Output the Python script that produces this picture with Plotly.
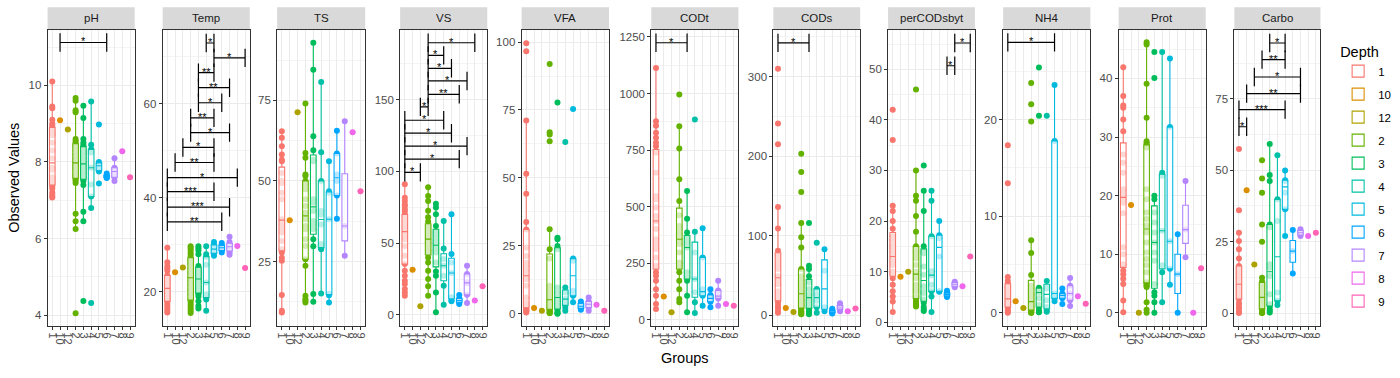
import plotly.graph_objects as go

# ---------------- data ----------------
groups = ["1", "10", "12", "2", "3", "4", "5", "6", "7", "8", "9"]
colors = ["#F8766D", "#DB8E00", "#AEA200", "#64B200", "#00BD5C", "#00C1A7",
          "#00BADE", "#00A6FF", "#B385FF", "#EF67EB", "#FF63B6"]
panels = ["pH", "Temp", "TS", "VS", "VFA", "CODt", "CODs", "perCODsbyt", "NH4", "Prot", "Carbo"]

ph = {
    "1": [10.1, 9.45, 9.4, 9.1, 9.0, 8.95, 8.9, 8.8, 8.75, 8.7, 8.5, 8.3, 8.1, 7.85, 7.8, 7.6, 7.55, 7.5, 7.45, 7.4, 7.35, 7.3, 7.2, 7.15, 7.1, 7.07],
    "10": [9.09], "12": [8.85],
    "2": [9.67, 9.6, 9.35, 9.3, 8.6, 8.55, 8.5, 8.45, 8.4, 8.3, 8.2, 8.1, 8.05, 8.0, 7.95, 7.9, 7.85, 7.8, 7.7, 7.65, 7.6, 7.55, 7.5, 7.45, 6.65, 6.45, 6.25, 4.05],
    "3": [9.47, 9.15, 8.6, 8.5, 8.45, 8.4, 8.3, 8.25, 8.2, 8.1, 8.0, 7.9, 7.85, 7.8, 7.7, 7.6, 7.55, 7.5, 7.4, 6.7, 6.45, 4.37],
    "4": [9.58, 8.45, 8.33, 8.25, 7.85, 7.41, 7.1, 6.8, 4.32],
    "5": [8.98, 8.0, 7.95, 7.9, 7.8, 7.75, 7.44],
    "6": [7.7, 7.65, 7.62, 7.6, 7.58],
    "7": [8.1, 7.85, 7.8, 7.7, 7.6, 7.5],
    "8": [8.28], "9": [7.6],
}
temp = {
    "1": [29.4, 26.3, 25.5, 25.0, 24.5, 23.5, 23.0, 22.5, 22.0, 21.5, 21.0, 20.5, 20.0, 19.5, 19.0, 18.5, 18.0, 17.5, 17.0, 16.5, 16.0, 15.6],
    "10": [24.2], "12": [25.2],
    "2": [29.7, 29.4, 29.0, 28.5, 28.0, 27.5, 27.0, 26.5, 26.0, 25.0, 24.0, 23.0, 22.3, 21.5, 20.5, 19.5, 18.5, 18.0, 17.5, 17.0, 16.5, 16.0, 15.5],
    "3": [29.7, 29.3, 28.8, 28.0, 23.5, 22.5, 25.5, 25.0, 24.5, 24.0, 23.0, 22.0, 21.0, 20.5, 20.0, 19.5, 19.0, 18.0, 17.0, 16.5],
    "4": [29.7, 28.0, 27.5, 25.8, 22.0, 19.5, 18.8, 18.4, 16.0],
    "5": [30.6, 30.0, 29.4, 28.8, 28.2, 27.7],
    "6": [30.4, 29.9, 29.6, 29.2, 28.8, 28.4],
    "7": [31.7, 30.6, 30.1, 29.6, 29.0, 28.4, 27.9],
    "8": [29.75], "9": [25.1],
}
ts = {
    "1": [65.4, 63.4, 60.8, 58.2, 56.6, 56.1, 52.5, 50.0, 49.4, 46.3, 44.3, 38.1, 37.6, 36.5, 35.0, 34.0, 31.4, 28.8, 27.8, 26.2, 25.2, 14.6, 9.7, 9.2],
    "10": [37.8], "12": [71.3],
    "2": [74.0, 58.7, 57.2, 52.0, 51.5, 50.0, 48.9, 47.4, 44.3, 42.2, 40.2, 38.1, 36.0, 35.0, 31.9, 29.8, 25.7, 23.7, 14.4, 13.4, 12.9, 12.3],
    "3": [92.9, 84.5, 63.9, 59.5, 56.6, 56.1, 44.3, 43.2, 40.7, 37.6, 36.5, 35.0, 31.9, 29.7, 14.9, 12.5],
    "4": [80.7, 58.9, 50.0, 40.7, 39.6, 36.5, 30.4, 29.3, 28.8, 15.1],
    "5": [56.1, 46.8, 46.3, 38.1, 15.0, 14.5, 12.3],
    "6": [65.6, 58.5, 52.0, 50.0, 45.5, 38.3],
    "7": [68.5, 36.0, 26.8],
    "8": [65.1], "9": [46.8],
}
vs = {
    "1": [91, 81.7, 79.4, 77, 75.9, 73.6, 72, 70, 69, 66, 65, 63, 62, 60, 58, 57.4, 55, 54, 52.8, 48.1, 41.2, 35.4, 30.8, 27.3, 23.8, 21.5, 18, 15.7, 13.4],
    "10": [31.5], "12": [6.0],
    "2": [89, 82.9, 79.4, 72.5, 68, 65, 62, 60, 58, 56, 54, 52.8, 51, 50, 48.1, 45, 43.5, 40, 36.6, 30.8, 25, 19.9, 13.4],
    "3": [77.5, 74.8, 70.1, 62, 57.4, 55, 52, 50, 47, 45, 43.5, 36.6, 30.3, 27.3, 15.7, 1.85],
    "4": [65.5, 46.3, 38.9, 34.3, 27.3, 20.4, 7.0],
    "5": [70.1, 42.4, 36.6, 29.2, 12.3, 10.0, 9.5],
    "6": [13.9, 11.5, 10.5, 9.5, 8.8, 7.6],
    "7": [34.3, 28.5, 22.7, 22.0, 14.0, 8.3],
    "8": [10.0], "9": [19.9],
}
vfa = {
    "1": [99.6, 96.6, 71.1, 51.5, 44.2, 33.8, 31.0, 24.4, 21.3, 18.8, 17.6, 15.8, 14.0, 12.7, 10.3, 6.0, 4.0, 2.9, 2.2, 1.7, 1.5, 1.2, 1.0, 0.8, 0.5],
    "10": [2.1], "12": [1.1],
    "2": [91.9, 66.8, 66.0, 63.5, 31.1, 23.7, 20.3, 10.3, 9.1, 7.8, 6.6, 5.5, 4.8, 4.2, 3.5, 2.8, 2.3, 1.8, 1.5, 1.1, 0.8, 0.5, 0.3, 0.25],
    "3": [77.8, 28.0, 27.4, 24.9, 23.7, 9.7, 7.8, 6.0, 4.8, 3.5, 2.3, 1.1, 0.5, 0.2, 0.0],
    "4": [63.2, 9.7, 7.8, 5.4, 3.9, 2.3, 1.1],
    "5": [75.4, 20.3, 19.5, 8.5, 6.6, 4.2],
    "6": [4.5, 3.8, 3.0, 2.5, 2.0, 1.5],
    "7": [6.0, 4.5, 3.5, 2.3, 1.1],
    "8": [3.3], "9": [1.1],
}
codt = {
    "1": [1112, 877, 858, 826, 804, 782, 767, 738, 650, 547, 533, 496, 459, 437, 401, 356, 335, 313, 276, 239, 210, 195, 173, 136, 107, 70, 48],
    "10": [103], "12": [34],
    "2": [995, 855, 757, 621, 525, 462, 415, 401, 379, 356, 335, 298, 254, 239, 210, 173, 136, 92, 78],
    "3": [569, 447, 386, 360, 342, 320, 210, 188, 173, 107, 34],
    "4": [885, 389, 298, 181, 122, 78, 31],
    "5": [405, 276, 136, 114, 107, 63],
    "6": [136, 110, 100, 90, 80, 56],
    "7": [173, 130, 105, 95, 63],
    "8": [70], "9": [63],
}
cods = {
    "1": [310, 241, 215, 136, 109, 81, 76, 72, 66, 62, 58, 49, 45, 39, 30, 26, 22, 20, 16, 12, 10, 8, 5, 3],
    "10": [9], "12": [4],
    "2": [203, 180, 155, 116, 98, 85, 58, 49, 44, 39, 35, 30, 27, 24, 20, 18, 14, 12, 9, 7, 5, 4, 3, 2, 1],
    "3": [116, 62, 58, 49, 41, 33, 26, 22, 18, 14, 10, 7, 5, 3, 1],
    "4": [91, 33, 26, 18, 10, 3],
    "5": [83, 56, 10, 5],
    "6": [8, 6, 4, 3, 2],
    "7": [15, 12, 9, 7, 5],
    "8": [5], "9": [8.5],
}
percodsbyt = {
    "1": [42, 36, 23, 22, 20, 18.5, 17, 16.2, 15.2, 14.5, 13.9, 13, 12.6, 11.8, 11.3, 10, 9.5, 8.7, 7.4, 6.1, 5.1, 4.1, 2],
    "10": [9], "12": [10],
    "2": [46, 30, 25, 24, 21, 17.9, 15, 14, 13.5, 12.6, 11.3, 10, 9.5, 8.7, 7.4, 6.5, 6.1, 5, 4.7, 4.4, 4, 3.8, 3.5, 3.3, 3.1],
    "3": [31, 26, 22, 15, 14, 13.6, 11, 9.4, 7.1, 6, 5.8, 4.5, 3.8, 3, 2.5, 2.2],
    "4": [26, 24, 17, 10.1, 9.3, 7.4, 6.1, 5.1, 2],
    "5": [20, 17.2, 16.6, 13, 6.1, 6.0],
    "6": [6.2, 5.8, 5.5, 5.2, 5.0],
    "7": [8.0, 7.7, 7.3, 6.9],
    "8": [7.1], "9": [13],
}
nh4 = {
    "1": [17.35, 13.4, 3.7, 3.3, 3.0, 2.65, 2.3, 1.96, 1.6, 1.27, 1.1, 0.93, 0.8, 0.6, 0.4, 0.24, 0.1, 0.0],
    "10": [1.2], "12": [0.5],
    "2": [23.8, 21.6, 19.8, 7.5, 6.2, 3.9, 2.8, 2.5, 2.0, 1.8, 1.6, 1.3, 1.0, 0.9, 0.7, 0.6, 0.5, 0.3, 0.25, 0.15, 0.1, 0.05, 0.0, 0.0],
    "3": [25.4, 20.4, 2.6, 2.5, 2.3, 2.1, 1.5, 0.8, 0.4, 0.1, 0.05],
    "4": [20.4, 3.3, 2.6, 2.5, 1.3, 0.6, 0.2, 0.1],
    "5": [23.6, 17.8, 2.0, 1.5, 1.2],
    "6": [2.5, 2.0, 1.8, 1.5, 0.9],
    "7": [3.6, 2.8, 2.0, 1.3, 0.7],
    "8": [1.7], "9": [0.93],
}
prot = {
    "1": [41.9, 37, 35.4, 35, 33, 31, 27, 25.6, 23.9, 21.1, 20.8, 20, 19.4, 18.8, 17, 11.2, 10, 8.3, 7.2, 6.6, 5.8, 4.9, 2.1, 0.1],
    "10": [18.4], "12": [0],
    "2": [46.2, 45.8, 39.1, 33.3, 29.3, 29, 28.8, 28.5, 28.2, 21.1, 19.4, 17.1, 16, 14.9, 13.7, 12, 10.3, 9.2, 8.1, 6.9, 5.2, 5.0, 4.7, 4.6, 4.4, 1.8, 0.5, 0],
    "3": [44.5, 40.1, 20, 19.4, 17.1, 15.4, 13.7, 12, 10.3, 8.9, 4.9, 3.5, 2.9, 1.8, 0],
    "4": [44.5, 23.9, 23.4, 14, 8.1, 6.9, 1.8],
    "5": [43.4, 31.7, 12.2, 7.5, 4.8],
    "6": [13.4, 6.6, 0],
    "7": [22.5, 14.2, 9.5],
    "8": [0], "9": [7.6],
}
carbo = {
    "1": [57.4, 36, 28.1, 25.2, 22.3, 19.1, 16.5, 15.3, 14.5, 13.6, 12.5, 11.9, 10.1, 9, 8.4, 7.5, 6.6, 5.5, 4.9, 3.5, 3.1, 2, 1.4, 0.5, 0],
    "10": [43], "12": [17],
    "2": [53.5, 47.1, 42.1, 31, 25, 12.4, 11, 10.7, 9.5, 9, 8, 7.2, 6.5, 6, 5.5, 5, 4.5, 3.7, 3, 2.5, 1.98, 1.5, 1.0, 0.8, 0.5, 0.3, 0.2, 0.1, 0],
    "3": [59.2, 48.3, 46.2, 31, 30, 17.1, 15.9, 13, 6.6, 3.1, 2.5, 1.4, 0.8, 0.2],
    "4": [55.2, 39.8, 32.2, 7.2, 4.3, 2.8],
    "5": [49.9, 46.5, 46.2, 42.1, 36.3, 27.0],
    "6": [29.1, 21.7, 13.9],
    "7": [29.3, 28.5, 27.7, 27.0],
    "8": [27], "9": [28.1],
}

# significance comparisons: (group a, group b, y level, label)
ph_sig = [("10", "6", 11.12, "*")]
temp_sig = [("4", "5", 72.9, "*"), ("5", "9", 69.75, "*"), ("3", "5", 66.6, "**"),
            ("3", "7", 63.4, "**"), ("3", "6", 60.2, "*"), ("2", "5", 57.0, "**"),
            ("2", "7", 53.85, "*"), ("12", "5", 50.7, "*"), ("10", "5", 47.5, "**"),
            ("1", "8", 44.3, "*"), ("1", "5", 41.3, "***"), ("1", "7", 38.0, "***"),
            ("1", "6", 34.9, "**")]
vs_sig = [("2", "8", 189.6, "*"), ("2", "4", 180.8, "*"), ("2", "5", 171.8, "*"),
          ("2", "7", 163.0, "*"), ("2", "6", 153.7, "**"), ("12", "2", 144.9, "*"),
          ("1", "4", 135.6, "*"), ("1", "5", 126.6, "*"), ("1", "7", 117.6, "*"),
          ("1", "6", 108.5, "*"), ("1", "12", 99.3, "*")]
codt_sig = [("1", "3", 1224, "*")]
cods_sig = [("1", "3", 342.6, "*")]
percod_sig = [("7", "9", 55.2, "*"), ("6", "7", 50.7, "*")]
nh4_sig = [("1", "5", 28.0, "*")]
carbo_sig = [("3", "5", 94.5, "*"), ("2", "5", 88.7, "**"), ("12", "7", 82.6, "*"),
             ("10", "7", 76.8, "**"), ("1", "5", 71.2, "***"), ("1", "10", 65.2, "*")]

panel_data = [ph, temp, ts, vs, vfa, codt, cods, percodsbyt, nh4, prot, carbo]
panel_sig = [ph_sig, temp_sig, [], vs_sig, [], codt_sig, cods_sig, percod_sig, nh4_sig, [], carbo_sig]

# ---------------- layout helpers (positions / styles) ----------------
W, H = 1400, 378
panel_px = [(46.7, 134), (162, 249.3), (276.7, 365), (400, 487.3), (521.7, 609.3),
            (651.7, 739), (774, 861), (889, 976), (1004.3, 1091.7), (1120, 1207.3),
            (1236, 1322.3)]
y_ranges = [(3.71, 11.45), (12.7, 75.7), (4.9, 96.9), (-7.9, 198.6), (-4.6, 104.5),
            (-28, 1281), (-14, 359), (-0.8, 57.8), (-1.4, 29.3), (-2.3, 48.3), (-4.6, 99.1)]
y_dticks = [2, 20, 25, 50, 25, 250, 100, 10, 10, 10, 25]
top_px, bot_px = 30, 328
ydom = [1 - bot_px / H, 1 - top_px / H]

FONT = "Liberation Sans, Arial, Helvetica, sans-serif"
fig = go.Figure()
annotations = []
shapes = []

for i, (name, data, sig) in enumerate(zip(panels, panel_data, panel_sig)):
    n = i + 1
    xa = "x" if n == 1 else f"x{n}"
    ya = "y" if n == 1 else f"y{n}"
    for g, c in zip(groups, colors):
        vals = data[g]
        # points (drawn first, underneath the box)
        fig.add_trace(go.Box(
            x=[g] * len(vals), y=vals, xaxis=xa, yaxis=ya,
            boxpoints="all", jitter=0, pointpos=0,
            marker=dict(color=c, size=6, line=dict(width=0)),
            line=dict(width=0, color="rgba(0,0,0,0)"), fillcolor="rgba(0,0,0,0)",
            width=0.72, whiskerwidth=0, showlegend=False, hoverinfo="y",
            legendgroup=g, name=g))
        # box
        fig.add_trace(go.Box(
            x=[g] * len(vals), y=vals, xaxis=xa, yaxis=ya,
            boxpoints="outliers", quartilemethod="inclusive",
            marker=dict(color=c, size=1, opacity=0),
            line=dict(width=1.1, color=c), fillcolor="rgba(255,255,255,0.72)",
            width=0.72, whiskerwidth=0, showlegend=(n == 1),
            legendgroup=g, name=g, hoverinfo="y"))
    # significance brackets
    yr = y_ranges[i]
    cap = 0.031 * (yr[1] - yr[0])
    bx, by = [], []
    for a, b, yv, lab in sig:
        bx += [a, a, None, a, b, None, b, b, None]
        by += [yv - cap, yv + cap, None, yv, yv, None, yv - cap, yv + cap, None]
        annotations.append(dict(
            x=(groups.index(a) + groups.index(b)) / 2, y=yv, xref=xa, yref=ya,
            text=lab, showarrow=False, yanchor="middle", yshift=1,
            font=dict(size=11, color="black", family=FONT)))
    if bx:
        fig.add_trace(go.Scatter(x=bx, y=by, xaxis=xa, yaxis=ya, mode="lines",
                                 line=dict(color="black", width=1.2),
                                 showlegend=False, hoverinfo="skip"))
    # axes
    l, r = panel_px[i]
    fig.update_layout(**{
        f"xaxis{'' if n == 1 else n}": dict(
            domain=[l / W, r / W], anchor=ya, type="category",
            categoryorder="array", categoryarray=groups,
            tickmode="array", tickvals=groups, ticktext=groups,
            range=[-0.6, 10.6], tickangle=90,
            tickfont=dict(size=11, color="#4D4D4D", family=FONT),
            ticks="outside", ticklen=3, tickcolor="#333333", tickwidth=1,
            showline=True, mirror=True, linecolor="#333333", linewidth=1,
            showgrid=True, gridcolor="#EBEBEB", gridwidth=1, zeroline=False),
        f"yaxis{'' if n == 1 else n}": dict(
            domain=ydom, anchor=xa, range=list(yr), dtick=y_dticks[i], tick0=0,
            tickfont=dict(size=11.5, color="#4D4D4D", family=FONT),
            ticks="outside", ticklen=3, tickcolor="#333333", tickwidth=1,
            showline=True, mirror=True, linecolor="#333333", linewidth=1,
            showgrid=True, gridcolor="#EBEBEB", gridwidth=1, zeroline=False,
            minor=dict(dtick=y_dticks[i] / 2, showgrid=True, gridcolor="#F4F4F4",
                       gridwidth=0.6, ticks="")),
    })
    # strip header
    shapes.append(dict(type="rect", xref=f"{xa} domain", yref="paper",
                       x0=0, x1=1, y0=1 - 29.7 / H, y1=1 - 7.3 / H,
                       fillcolor="#D9D9D9", line=dict(width=0), layer="below"))
    annotations.append(dict(text=name, xref=f"{xa} domain", yref="paper",
                            x=0.5, y=1 - 18.5 / H, showarrow=False,
                            xanchor="center", yanchor="middle",
                            font=dict(size=11.5, color="#1A1A1A", family=FONT)))

annotations.append(dict(text="Observed Values", xref="paper", yref="paper",
                        x=12.8 / W, y=1 - 179 / H, textangle=-90, showarrow=False,
                        xanchor="center", yanchor="middle",
                        font=dict(size=14.5, color="black", family=FONT)))
annotations.append(dict(text="Groups", xref="paper", yref="paper",
                        x=685 / W, y=1 - 360 / H, showarrow=False,
                        xanchor="center", yanchor="middle",
                        font=dict(size=14.5, color="black", family=FONT)))

fig.update_layout(
    width=W, height=H, margin=dict(l=0, r=0, t=0, b=0),
    paper_bgcolor="white", plot_bgcolor="white", boxmode="overlay",
    font=dict(family=FONT),
    annotations=annotations, shapes=shapes,
    legend=dict(x=1340 / W, y=1 - 38 / H, xanchor="left", yanchor="top",
                title=dict(text="Depth", font=dict(size=14.5, color="black", family=FONT)),
                font=dict(size=11.5, color="black", family=FONT),
                traceorder="grouped", tracegroupgap=4, bgcolor="rgba(0,0,0,0)"),
)

fig.write_html("out.html", config={"displayModeBar": False},
               post_script="document.body.style.margin='0px';")
